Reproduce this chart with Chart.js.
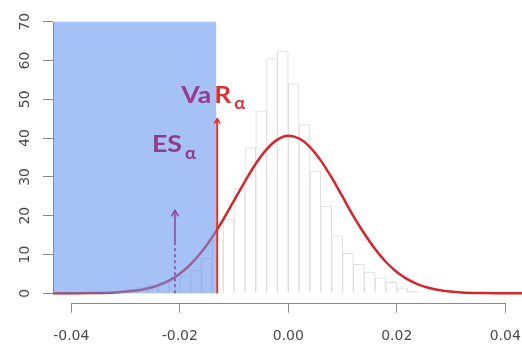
<!DOCTYPE html>
<html><head><meta charset="utf-8">
<script src="https://cdn.jsdelivr.net/npm/chart.js@4.4.0/dist/chart.umd.min.js"></script>
<style>html,body{margin:0;padding:0;background:#fff;}#wrap{width:522px;height:352px;}</style>
</head><body><div id="wrap"><canvas id="c" width="522" height="352"></canvas></div>
<script>
// ---- data ----
const binMids = [-0.031,-0.029,-0.027,-0.025,-0.023,-0.021,-0.019,-0.017,-0.015,-0.013,-0.011,-0.009,-0.007,-0.005,-0.003,-0.001,0.001,0.003,0.005,0.007,0.009,0.011,0.013,0.015,0.017,0.019,0.021,0.023];
const binDensity = [0.6,1.0,1.5,2.0,2.8,3.5,4.5,6.0,9.0,13.8,19.0,27.0,37.5,47.0,60.5,62.5,54.0,43.5,31.5,22.5,14.8,10.3,7.5,5.5,4.0,2.8,1.2,0.5];
const curveX = [-0.044,-0.040,-0.036,-0.032,-0.028,-0.026,-0.024,-0.022,-0.020,-0.018,-0.016,-0.014,-0.012,-0.010,-0.008,-0.006,-0.004,-0.002,0,0.002,0.004,0.006,0.008,0.010,0.012,0.014,0.016,0.018,0.020,0.022,0.024,0.026,0.028,0.032,0.036,0.040,0.044];
const curveY = [0,0.01,0.05,0.2,0.7,1.23,2.05,3.29,5.07,7.49,10.64,14.5,19.0,23.9,28.8,33.4,37.1,39.6,40.6,39.9,37.7,34.2,29.8,24.9,19.9,15.4,11.4,8.07,5.49,3.6,2.26,1.36,0.79,0.23,0.06,0.01,0];
const xTickValues = [-0.04,-0.02,0,0.02,0.04];
const yTickValues = [0,10,20,30,40,50,60,70];
const varValue = -0.0132;
const varArrowTop = 45;
const esValue = -0.0209;
const esArrowTop = 21.4;
const esDashTop = 12.5;
const shadeTop = 70;

const shadePlugin = {
  id: 'shade',
  afterDatasetsDraw(chart) {
    const ctx = chart.ctx, xs = chart.scales.x, ys = chart.scales.y, ca = chart.chartArea;
    const xL = ca.left, xR = xs.getPixelForValue(varValue);
    const yT = ys.getPixelForValue(shadeTop), yB = ys.getPixelForValue(0);
    ctx.save();
    ctx.fillStyle = 'rgba(100,149,237,0.58)';
    ctx.fillRect(xL, yT, xR - 0.5 - xL, yB - yT);
    ctx.restore();

    // VaR line + arrow
    const vx = xs.getPixelForValue(varValue) + 0.5;
    const vTop = ys.getPixelForValue(varArrowTop);
    ctx.save();
    ctx.strokeStyle = '#e0302c'; ctx.lineWidth = 2;
    ctx.beginPath(); ctx.moveTo(vx, yB); ctx.lineTo(vx, vTop); ctx.stroke();
    ctx.lineWidth = 1.5;
    ctx.beginPath(); ctx.moveTo(vx - 3, vTop + 5); ctx.lineTo(vx, vTop); ctx.lineTo(vx + 3, vTop + 5); ctx.stroke();
    ctx.restore();

    // ES arrow
    const ex = xs.getPixelForValue(esValue);
    const eTop = ys.getPixelForValue(esArrowTop), eMid = ys.getPixelForValue(esDashTop);
    ctx.save();
    ctx.strokeStyle = '#8a4c9c'; ctx.lineWidth = 1.6;
    ctx.setLineDash([3, 3]);
    ctx.beginPath(); ctx.moveTo(ex, yB); ctx.lineTo(ex, eMid); ctx.stroke();
    ctx.setLineDash([]);
    ctx.beginPath(); ctx.moveTo(ex, eMid); ctx.lineTo(ex, eTop); ctx.stroke();
    ctx.beginPath(); ctx.moveTo(ex - 3.5, eTop + 6); ctx.lineTo(ex, eTop); ctx.lineTo(ex + 3.5, eTop + 6); ctx.stroke();
    ctx.restore();

    // Labels
    function stretched(text, x, y, font, color, width) {
      ctx.save();
      ctx.font = font; ctx.fillStyle = color; ctx.textBaseline = 'alphabetic'; ctx.textAlign = 'left';
      const w = ctx.measureText(text).width;
      ctx.translate(x, y); ctx.scale(width / w, 1);
      ctx.fillText(text, 0, 0);
      ctx.restore();
    }
    const vb = ys.getPixelForValue(49.0);
    stretched('Va', vx - 36, vb, 'bold 22px Lato', '#993a8b', 30);
    stretched('R', vx - 3, vb, 'bold 22px Lato', '#dc3130', 17);
    stretched('\u03b1', vx + 17, ys.getPixelForValue(47.6), 'bold 17px Lato', '#dc3130', 11);

    const eb = ys.getPixelForValue(36.3);
    stretched('ES', ex - 23, eb, 'bold 22px Lato', '#8f3b88', 30);
    stretched('\u03b1', ex + 10, ys.getPixelForValue(34.7), 'bold 17px Lato', '#8f3b88', 11);
  },
  afterDraw(chart) {
    const ctx = chart.ctx, xs = chart.scales.x, ys = chart.scales.y, ca = chart.chartArea;
    ctx.save();
    ctx.strokeStyle = '#888'; ctx.lineWidth = 1;
    ctx.beginPath();
    ctx.moveTo(Math.round(xs.getPixelForValue(xTickValues[0])) + 0.5, Math.round(ca.bottom) + 0.5);
    ctx.lineTo(Math.round(xs.getPixelForValue(xTickValues[xTickValues.length - 1])) + 0.5, Math.round(ca.bottom) + 0.5);
    ctx.moveTo(Math.round(ca.left) + 0.5, Math.round(ys.getPixelForValue(yTickValues[0])) + 0.5);
    ctx.lineTo(Math.round(ca.left) + 0.5, Math.round(ys.getPixelForValue(yTickValues[yTickValues.length - 1])) + 0.5);
    ctx.stroke();
    ctx.restore();
  }
};

const tickFont = { family: 'DejaVu Sans', size: 14 };
new Chart(document.getElementById('c'), {
  type: 'bar',
  data: {
    datasets: [
      {
        type: 'line',
        data: curveX.map((x, i) => ({ x, y: curveY[i] })),
        borderColor: '#d5272b', borderWidth: 2.5, pointRadius: 0,
        cubicInterpolationMode: 'monotone', fill: false, order: 1
      },
      {
        type: 'bar',
        data: binMids.map((x, i) => ({ x, y: binDensity[i] })),
        backgroundColor: '#ffffff', borderColor: '#dcdcdc', borderWidth: 1,
        barPercentage: 1, categoryPercentage: 1, grouped: false, order: 2
      }
    ]
  },
  options: {
    responsive: false, animation: false, devicePixelRatio: 1,
    layout: { padding: { top: 12, right: 0, left: 0, bottom: 0 } },
    plugins: { legend: { display: false }, tooltip: { enabled: false } },
    scales: {
      x: {
        type: 'linear', min: -0.04337, max: 0.04308, offset: false,
        afterBuildTicks: s => { s.ticks = xTickValues.map(v => ({ value: v })); },
        afterFit: s => { s.height = 49.3; s.paddingLeft = 0; s.paddingRight = 0; },
        ticks: { font: tickFont, color: '#4a4a4a', padding: 15, maxRotation: 0, minRotation: 0,
          callback: v => Number(v).toFixed(2) },
        grid: { drawOnChartArea: false, drawTicks: true, tickLength: 10, color: '#888', offset: false },
        border: { display: false }
      },
      y: {
        type: 'linear', min: -2.42, max: 72.5,
        afterBuildTicks: s => { s.ticks = yTickValues.map(v => ({ value: v })); },
        afterFit: s => { s.width = 53; s.paddingTop = 0; s.paddingBottom = 0; },
        ticks: { font: tickFont, color: '#4a4a4a', padding: 9, minRotation: 90, maxRotation: 90, crossAlign: 'center',
          callback: v => String(v) },
        grid: { drawOnChartArea: false, drawTicks: true, tickLength: 10, color: '#888' },
        border: { display: false }
      }
    }
  },
  plugins: [shadePlugin]
});
</script>
</body></html>
